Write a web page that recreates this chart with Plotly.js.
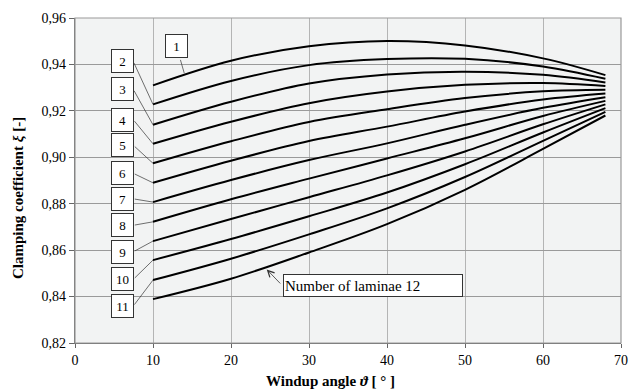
<!DOCTYPE html>
<html><head><meta charset="utf-8">
<script src="https://cdn.plot.ly/plotly-3.0.1.min.js"></script>
<style>html,body{margin:0;padding:0;background:#fff}</style>
</head><body><div id="chart" style="width:629px;height:390px"></div>
<script>
// ---- data ----
const windupAngle = [10, 20, 30, 40, 50, 60, 68];
const lam1  = [0.9310, 0.9416, 0.9478, 0.9501, 0.9482, 0.9426, 0.9354];
const lam2  = [0.9228, 0.9329, 0.9397, 0.9423, 0.9424, 0.9391, 0.9338];
const lam3  = [0.9140, 0.9239, 0.9318, 0.9357, 0.9369, 0.9355, 0.9322];
const lam4  = [0.9058, 0.9153, 0.9233, 0.9283, 0.9312, 0.9320, 0.9307];
const lam5  = [0.8974, 0.9069, 0.9152, 0.9207, 0.9255, 0.9284, 0.9291];
const lam6  = [0.8890, 0.8985, 0.9070, 0.9132, 0.9197, 0.9249, 0.9275];
const lam7  = [0.8807, 0.8902, 0.8988, 0.9060, 0.9140, 0.9213, 0.9259];
const lam8  = [0.8722, 0.8819, 0.8908, 0.8995, 0.9082, 0.9178, 0.9243];
const lam9  = [0.8639, 0.8734, 0.8828, 0.8922, 0.9025, 0.9142, 0.9228];
const lam10 = [0.8557, 0.8648, 0.8746, 0.8848, 0.8970, 0.9107, 0.9212];
const lam11 = [0.8471, 0.8563, 0.8668, 0.8780, 0.8915, 0.9071, 0.9196];
const lam12 = [0.8389, 0.8477, 0.8590, 0.8712, 0.8860, 0.9036, 0.9180];
const curveLabels = ['1','2','3','4','5','6','7','8','9','10','11'];
const noteText = 'Number of laminae 12';
const xTickVals = [0, 10, 20, 30, 40, 50, 60, 70];
const yTickVals = [0.82, 0.84, 0.86, 0.88, 0.90, 0.92, 0.94, 0.96];

const series = [lam1, lam2, lam3, lam4, lam5, lam6, lam7, lam8, lam9, lam10, lam11, lam12];

// ---- layout positions (label boxes) ----
const boxPos = [
  {x: 12.95, y: 0.9479},
  {x: 6.03, y: 0.9413}, {x: 6.03, y: 0.9293}, {x: 6.03, y: 0.9162},
  {x: 6.03, y: 0.9052}, {x: 6.03, y: 0.8931}, {x: 6.03, y: 0.8821},
  {x: 6.03, y: 0.8707}, {x: 6.03, y: 0.8593}, {x: 6.03, y: 0.8474},
  {x: 6.03, y: 0.8359}
];
const tailX = 7.47;

const FONT = 'Liberation Serif, Times New Roman, serif';

const traces = series.map((s, i) => ({
  x: windupAngle, y: s, type: 'scatter', mode: 'lines',
  line: {color: '#000', width: 2, shape: 'spline', smoothing: 1},
  name: String(i + 1), showlegend: false, hoverinfo: 'skip'
}));

const annotations = [];
curveLabels.forEach((t, i) => {
  annotations.push({
    x: boxPos[i].x, y: boxPos[i].y, xref: 'x', yref: 'y', text: t, showarrow: false,
    font: {family: FONT, size: 13, color: '#000'},
    bgcolor: '#fff', bordercolor: '#333', borderwidth: 1, borderpad: 1,
    width: 19, height: 20, align: 'center', valign: 'middle'
  });
  // connector line
  let tx, ty, hx, hy;
  if (i === 0) { tx = 13.46; ty = 0.9426; hx = 14.01; hy = 0.9362; }
  else { tx = tailX; ty = boxPos[i].y; hx = windupAngle[0]; hy = series[i][0]; }
  annotations.push({
    x: hx, y: hy, xref: 'x', yref: 'y', ax: tx, ay: ty, axref: 'x', ayref: 'y',
    text: '', showarrow: true, arrowhead: 0, arrowwidth: 0.7, arrowcolor: '#333',
    standoff: 0, startstandoff: 0
  });
});
// "Number of laminae 12" box
annotations.push({
  x: 38.21, y: 0.8448, xref: 'x', yref: 'y', text: noteText, showarrow: false,
  font: {family: FONT, size: 15, color: '#000'},
  bgcolor: '#fff', bordercolor: '#333', borderwidth: 1, borderpad: 1,
  width: 176, height: 19, align: 'left', valign: 'middle', xanchor: 'center'
});
annotations.push({
  x: 24.58, y: 0.8517, xref: 'x', yref: 'y', ax: 26.5, ay: 0.8450, axref: 'x', ayref: 'y',
  text: '', showarrow: true, arrowhead: 5, arrowsize: 1.6, arrowwidth: 0.8, arrowcolor: '#333',
  standoff: 0
});
// axis titles
annotations.push({
  x: (330 - 75) / 546, y: (343 - 381) / 325, xref: 'paper', yref: 'paper',
  text: '<b>Windup angle <i>ϑ</i> [ ° ]</b>', showarrow: false,
  font: {family: FONT, size: 15, color: '#000'}, xanchor: 'center', yanchor: 'middle'
});
annotations.push({
  x: (18 - 75) / 546, y: (343 - 198) / 325, xref: 'paper', yref: 'paper',
  text: '<b>Clamping coefficient <i>ξ</i> [-]</b>', showarrow: false, textangle: -90,
  font: {family: FONT, size: 15, color: '#000'}, xanchor: 'center', yanchor: 'middle'
});

const layout = {
  width: 629, height: 390,
  margin: {l: 75, r: 8, t: 18, b: 47, pad: 0},
  paper_bgcolor: '#fff', plot_bgcolor: '#f2f3f3',
  separators: ', ',
  font: {family: FONT, size: 14, color: '#000'},
  xaxis: {
    range: [0, 70], tickvals: xTickVals, ticktext: xTickVals.map(String),
    showgrid: true, gridcolor: '#b4b4b4', gridwidth: 1, zeroline: false,
    showline: true, linecolor: '#666', linewidth: 1.2,
    ticks: 'outside', ticklen: 4, tickcolor: '#666', tickwidth: 1,
    tickfont: {family: FONT, size: 14, color: '#000'}, fixedrange: true
  },
  yaxis: {
    range: [0.82, 0.96], tickvals: yTickVals, tickformat: '.2f',
    showgrid: true, gridcolor: '#9a9a9a', gridwidth: 1, zeroline: false,
    showline: true, linecolor: '#666', linewidth: 1.2,
    ticks: 'outside', ticklen: 5, tickcolor: '#666', tickwidth: 1,
    tickfont: {family: FONT, size: 14, color: '#000'}, fixedrange: true
  },
  shapes: [{
    type: 'rect', xref: 'paper', yref: 'paper', x0: 0, x1: 1, y0: 0, y1: 1,
    line: {color: '#999', width: 1.2}, fillcolor: 'rgba(0,0,0,0)', layer: 'above'
  }],
  annotations: annotations
};

Plotly.newPlot('chart', traces, layout, {staticPlot: true, displayModeBar: false});
</script></body></html>
